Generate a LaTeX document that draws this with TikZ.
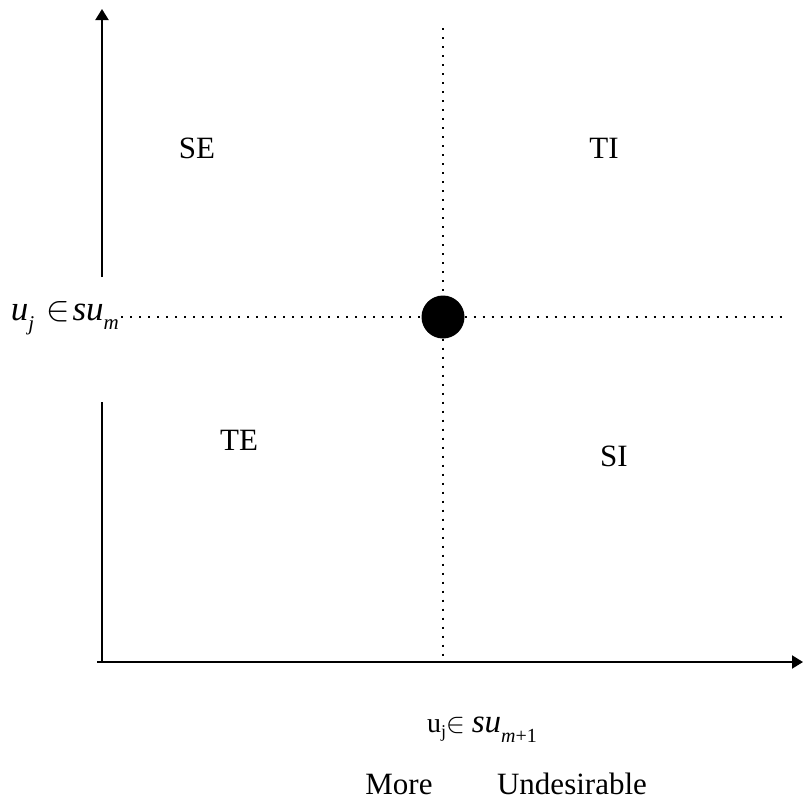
\documentclass[tikz,border=0pt]{standalone}
\usepackage{fontspec}
\usepackage{unicode-math}
\setmainfont{Liberation Serif}
\setmathfont{Latin Modern Math}
\usetikzlibrary{arrows.meta}
\newcommand{\lowsub}[3]{\raisebox{#1}{\fontsize{#2}{#2}\selectfont #3}}
\begin{document}
\begin{tikzpicture}[x=1pt,y=-1pt,
  axis/.style={line width=2pt},
  dotline/.style={line width=2.4pt,dash pattern=on 2.4pt off 6.6pt},
  lbl/.style={font=\fontsize{31}{34}\selectfont, inner sep=0pt},
  tip/.style={-{Triangle[length=11pt,width=13pt]}}]
\useasboundingbox (0,0) rectangle (803,801);
% axes
\coordinate (o) at (97,662);
\coordinate (xend) at (803,662);
\coordinate (ybot) at (102,662);
\coordinate (ygap1) at (102,402);
\coordinate (ygap2) at (102,277);
\coordinate (ytop) at (102,9);
\draw[axis,tip] (o) -- (xend);
\draw[axis] (ybot) -- (ygap1);
\draw[axis,tip] (ygap2) -- (ytop);
% centre point and dotted lines
\node[circle,fill=black,minimum size=43pt,inner sep=0pt] (c) at (443,317) {};
\coordinate (vt) at (443,28);
\coordinate (vb) at (443,657);
\coordinate (hr) at (785,317);
\node[anchor=base east,inner sep=0pt,font=\fontsize{35}{38}\selectfont\itshape] (ul) at (119,320)
  {u\lowsub{-10pt}{21}{j}\hspace{12pt}$\in$\hspace{3pt}su\lowsub{-9pt}{21}{m}};
\coordinate (hl) at (121,317);
\draw[dotline] (vt) -- (c.north);
\draw[dotline] (c.south) -- (vb);
\draw[dotline] (hl) -- (c.west);
\draw[dotline] (c.east) -- (hr);
% quadrant labels
\node[lbl] (se) at (197,148) {SE};
\node[lbl] (ti) at (604,148) {TI};
\node[lbl] (te) at (239,440) {TE};
\node[lbl] (si) at (614,456) {SI};
% bottom labels
\node[anchor=base,inner sep=0pt,font=\fontsize{28}{30}\selectfont] (bl) at (482,732)
  {u\lowsub{-5pt}{18}{j}$\in$ \fontsize{33}{36}\selectfont\itshape su\lowsub{-10pt}{20}{m\upshape +1}};
\node[lbl,anchor=base] (more) at (399,794) {More};
\node[lbl,anchor=base] (und) at (572,794) {Undesirable};
\end{tikzpicture}
\end{document}
